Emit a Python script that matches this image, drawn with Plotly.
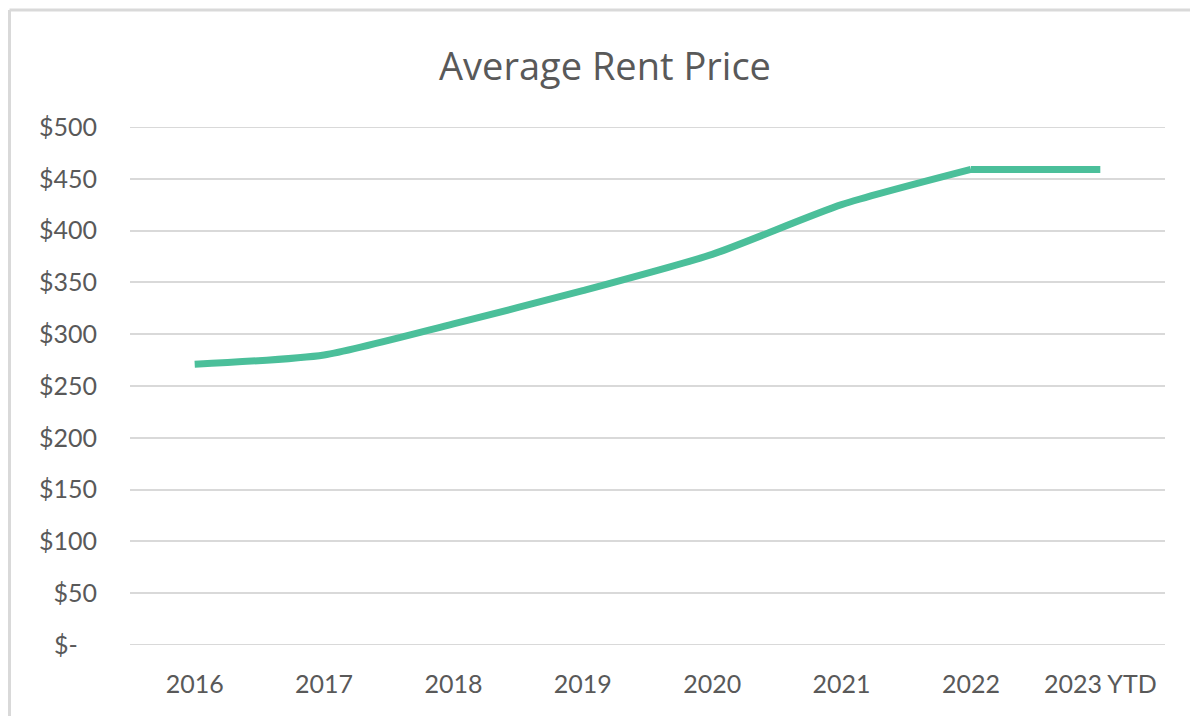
import plotly.graph_objects as go

categories = ["2016", "2017", "2018", "2019", "2020", "2021", "2022", "2023 YTD"]
rent = [271, 280, 310, 342, 377, 425, 459, 459]
tick_vals = [0, 50, 100, 150, 200, 250, 300, 350, 400, 450, 500]
tick_text = ["$-\u00a0\u00a0\u00a0", "$50", "$100", "$150", "$200", "$250", "$300", "$350", "$400", "$450", "$500"]

OFF = 8  # default page body margin
W, H = 1198 - 2 * OFF, 724 - 2 * OFF
L, T = 130 - OFF, 127 - OFF
R = (W + OFF) - 1165
B = (H + OFF) - 645
pw, ph = W - L - R, H - T - B

def px_x(p):
    return (p - OFF - L) / pw

def px_y(p):
    return (H + OFF - B - p) / ph

line_color = "#4BBF9A"
fig = go.Figure()
fig.add_trace(go.Scatter(
    x=categories[:7], y=rent[:7], mode="lines",
    line=dict(color=line_color, width=7, shape="spline", smoothing=0.6),
    hoverinfo="x+y",
))
fig.add_trace(go.Scatter(
    x=categories[6:], y=rent[6:], mode="lines",
    line=dict(color=line_color, width=7),
    hoverinfo="x+y",
))

grey = "#595959"
gridc = "#D9D9D9"
shapes = [
    dict(type="line", xref="paper", yref="y", x0=0, x1=1, y0=v, y1=v, layer="below",
         line=dict(color=gridc, width=2))
    for v in (tick_vals[0], tick_vals[-1])
]
shapes += [
    dict(type="line", xref="paper", yref="paper", x0=px_x(9.5), x1=px_x(9.5), y0=px_y(10), y1=px_y(740),
         line=dict(color=gridc, width=3)),
    dict(type="line", xref="paper", yref="paper", x0=px_x(9.5), x1=px_x(1210), y0=px_y(10), y1=px_y(10),
         line=dict(color=gridc, width=3)),
]

fig.update_layout(
    width=W, height=H,
    margin=dict(l=L, r=R, t=T, b=B),
    plot_bgcolor="white", paper_bgcolor="white",
    showlegend=False,
    title=dict(text="Average Rent Price", x=px_x(605), xanchor="center", xref="paper",
               y=1 - (67 - OFF) / H, yanchor="middle",
               font=dict(family="Open Sans", size=38, color=grey)),
    font=dict(family="Lato", size=25, color=grey),
    xaxis=dict(type="category", range=[-0.5, 7.5], showgrid=False, zeroline=False,
               showline=False, ticks="", ticklabelstandoff=22,
               tickfont=dict(family="Lato", size=25, color=grey)),
    yaxis=dict(range=[0, 500], tickvals=tick_vals, ticktext=tick_text,
               showgrid=True, gridcolor=gridc, gridwidth=2, zeroline=False,
               showline=False, ticks="", ticklabelstandoff=32,
               tickfont=dict(family="Lato", size=25, color=grey)),
    shapes=shapes,
)

fig.write_html("out.html")
